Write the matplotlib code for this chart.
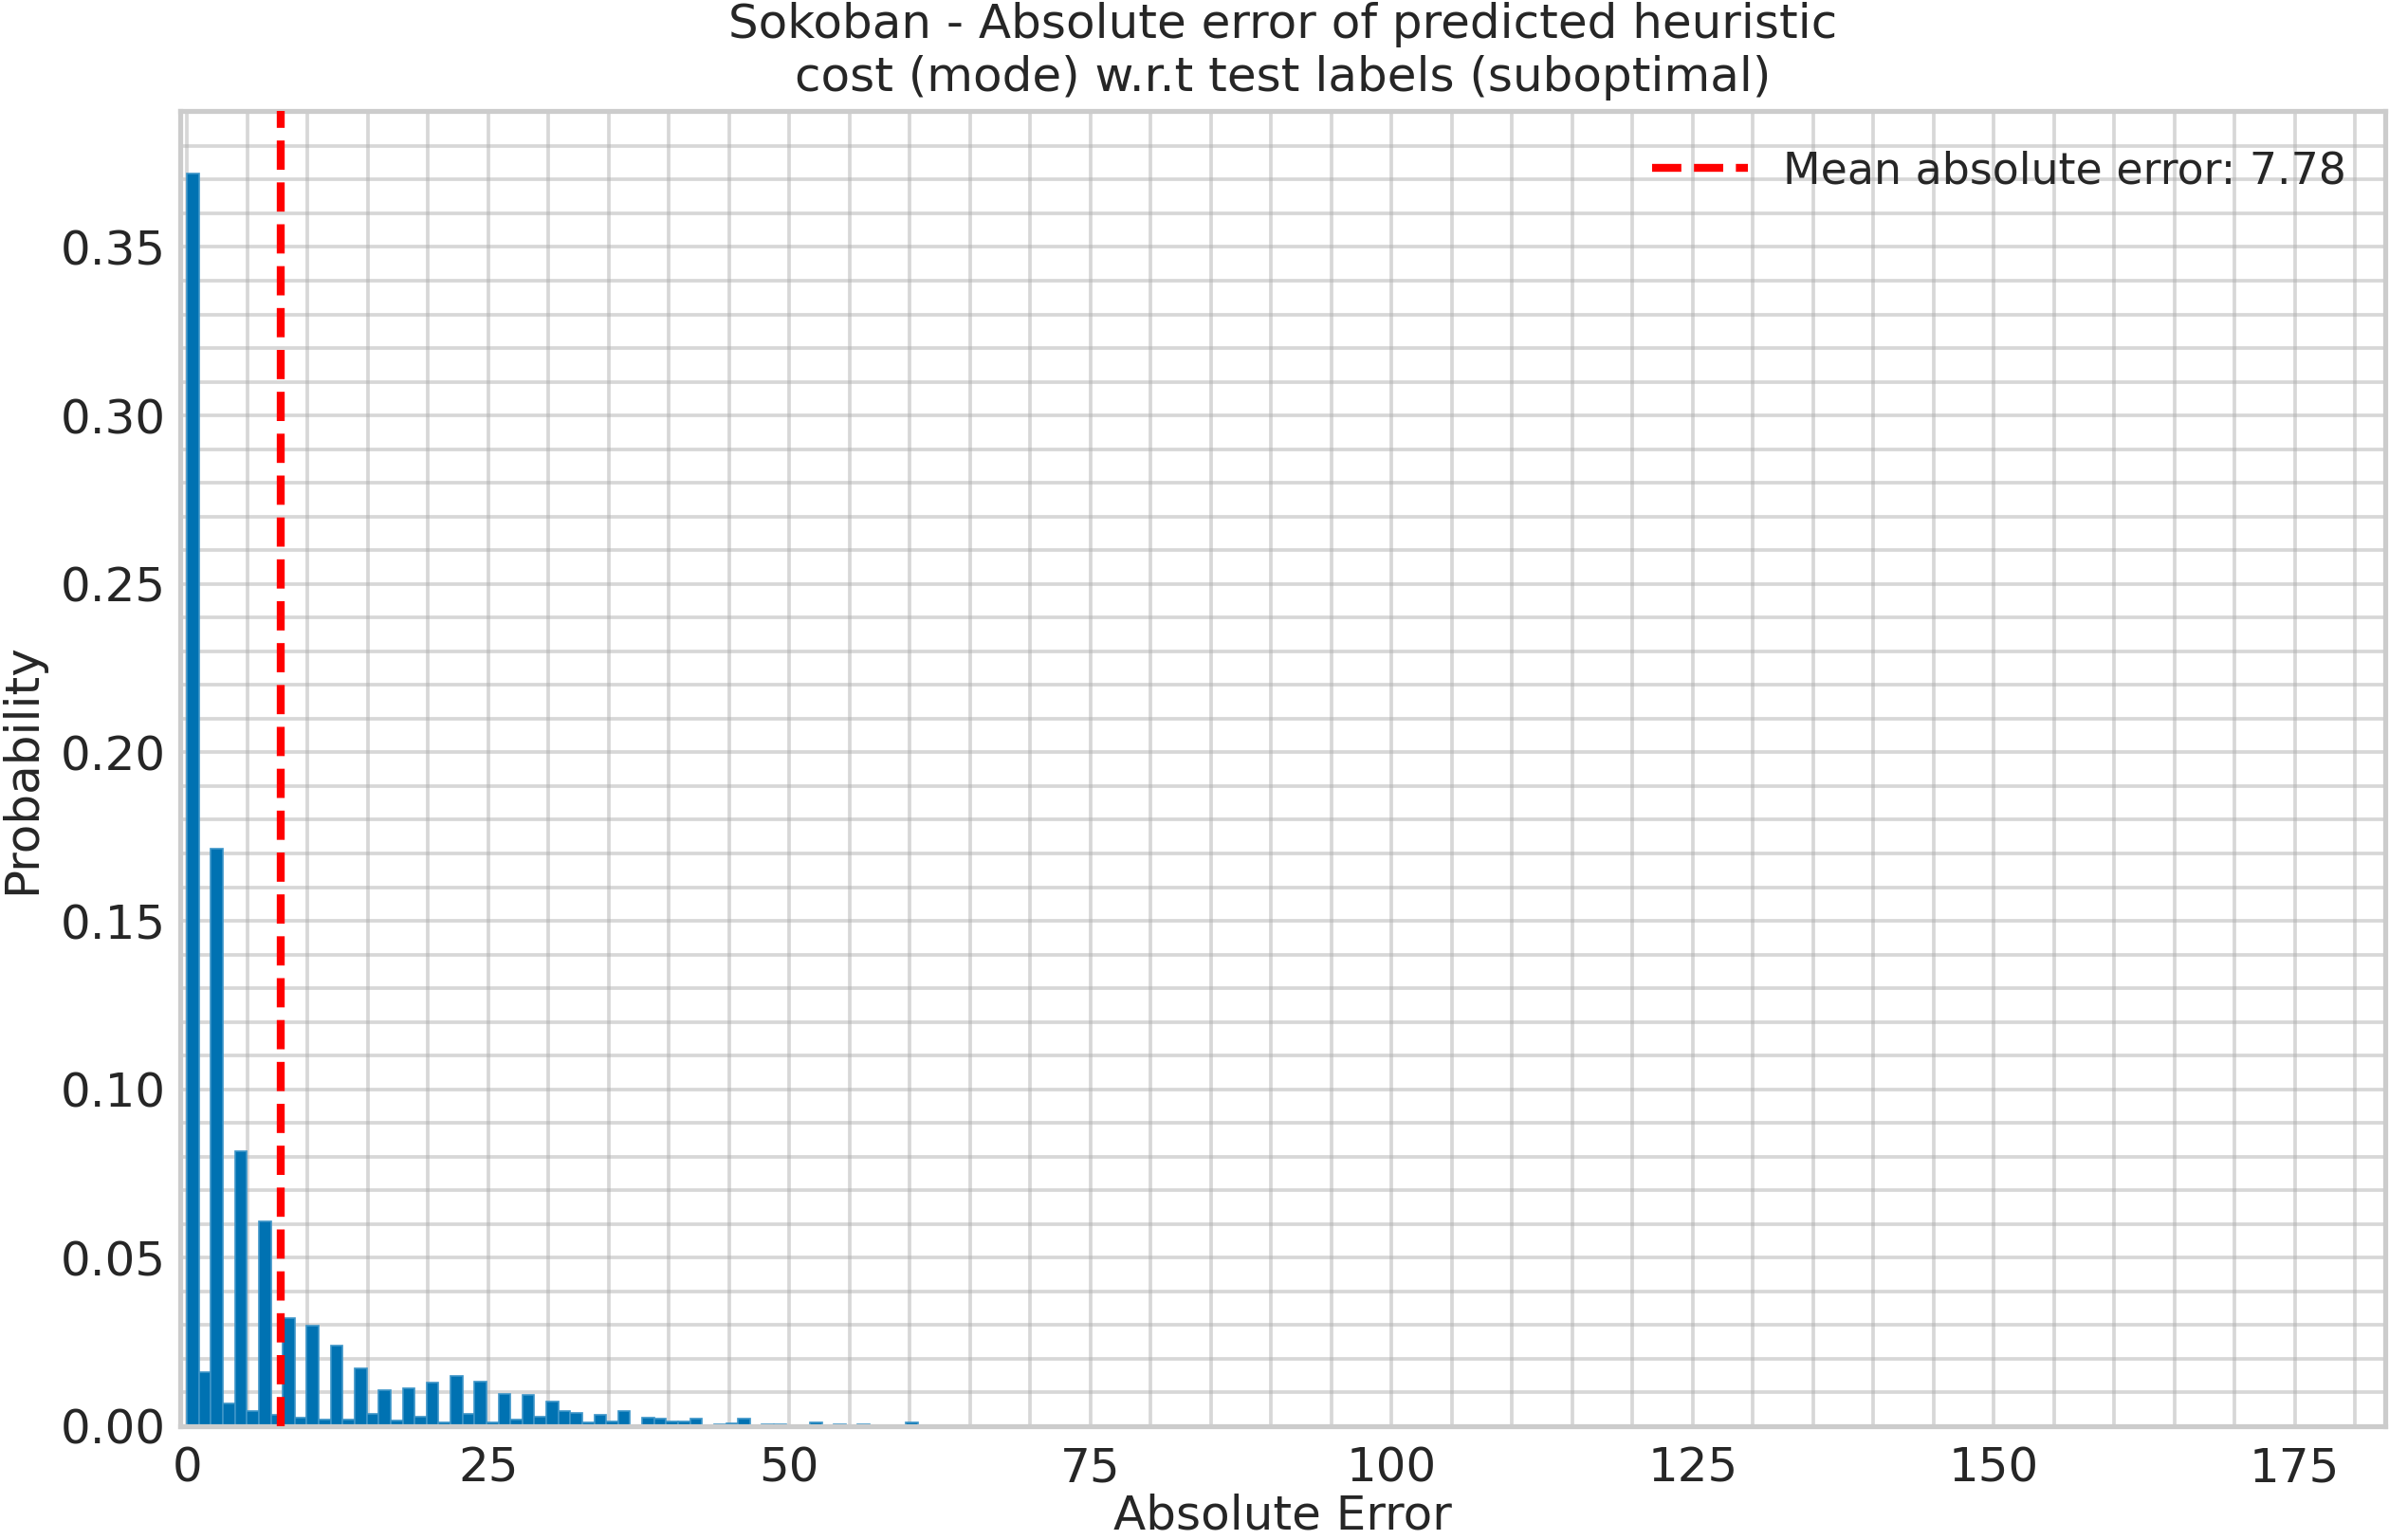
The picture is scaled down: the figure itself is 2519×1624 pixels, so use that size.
import matplotlib
matplotlib.use("Agg")
import matplotlib.pyplot as plt
from matplotlib.ticker import MultipleLocator, FormatStrFormatter
import numpy as np

# probability per absolute-error bin (bins start at 0, width ~0.9945)
probs = [
    0.3718, 0.0161, 0.1713, 0.0068, 0.0815, 0.0044, 0.0608, 0.0035, 0.0321, 0.0024,
    0.0297, 0.0020, 0.0238, 0.0020, 0.0173, 0.0036, 0.0108, 0.0016, 0.0112, 0.0027,
    0.0129, 0.0011, 0.0149, 0.0036, 0.0133, 0.0011, 0.0097, 0.0020, 0.0093, 0.0028,
    0.0074, 0.0044, 0.0040, 0.0011, 0.0035, 0.0014, 0.0044, 0.0000, 0.0024, 0.0023,
    0.0013, 0.0013, 0.0023, 0.0000, 0.0006, 0.0009, 0.0023, 0.0002, 0.0006, 0.0006,
    0.0000, 0.0000, 0.0010, 0.0002, 0.0006, 0.0002, 0.0006, 0.0000, 0.0002, 0.0000,
    0.0010, 0.0000, 0.0002,
]
bin_width = 181 / 182
mean_abs_error = 7.78
xticks = [0, 25, 50, 75, 100, 125, 150, 175]

text_color = "#262626"
plt.rcParams["font.family"] = "DejaVu Sans"
plt.rcParams["text.color"] = text_color
plt.rcParams["axes.labelcolor"] = text_color
plt.rcParams["xtick.color"] = text_color
plt.rcParams["ytick.color"] = text_color

fig, ax = plt.subplots(figsize=(2519 / 300, 1624 / 300), dpi=300)
fig.subplots_adjust(left=0.0754, right=0.9984, bottom=0.0739, top=0.928)

edges = np.arange(len(probs)) * bin_width
ax.bar(edges, probs, width=bin_width, align="edge", color="#0072B2",
       edgecolor="#3d95c8", linewidth=0.4, zorder=2)
ax.axvline(mean_abs_error, color="red", linestyle="--", linewidth=2,
           label=f"Mean absolute error: {mean_abs_error:.2f}", zorder=3)

ax.set_xlim(-0.57, 182.5)
ax.set_ylim(0, 0.3904)
ax.set_xticks(xticks)
ax.xaxis.set_minor_locator(MultipleLocator(5))
ax.yaxis.set_major_locator(MultipleLocator(0.05))
ax.yaxis.set_minor_locator(MultipleLocator(0.01))
ax.yaxis.set_major_formatter(FormatStrFormatter("%.2f"))
ax.tick_params(which="both", length=0, labelsize=12)
ax.tick_params(axis="x", pad=5)
ax.tick_params(axis="y", pad=3.5)

ax.grid(True, which="both", color="#b0b0b0", alpha=0.5, linewidth=0.9, zorder=0)
ax.set_axisbelow(True)
for sp in ax.spines.values():
    sp.set_color("#cccccc")
    sp.set_linewidth(1.25)

ax.set_title("Sokoban - Absolute error of predicted heuristic\ncost (mode) w.r.t test labels (suboptimal)",
             fontsize=12, pad=5)
ax.set_xlabel("Absolute Error", fontsize=12, labelpad=0.5)
ax.set_ylabel("Probability", fontsize=12, labelpad=4)
ax.legend(loc="upper right", frameon=False, fontsize=11, handlelength=2.2)

fig.savefig("out.png", dpi=300)
